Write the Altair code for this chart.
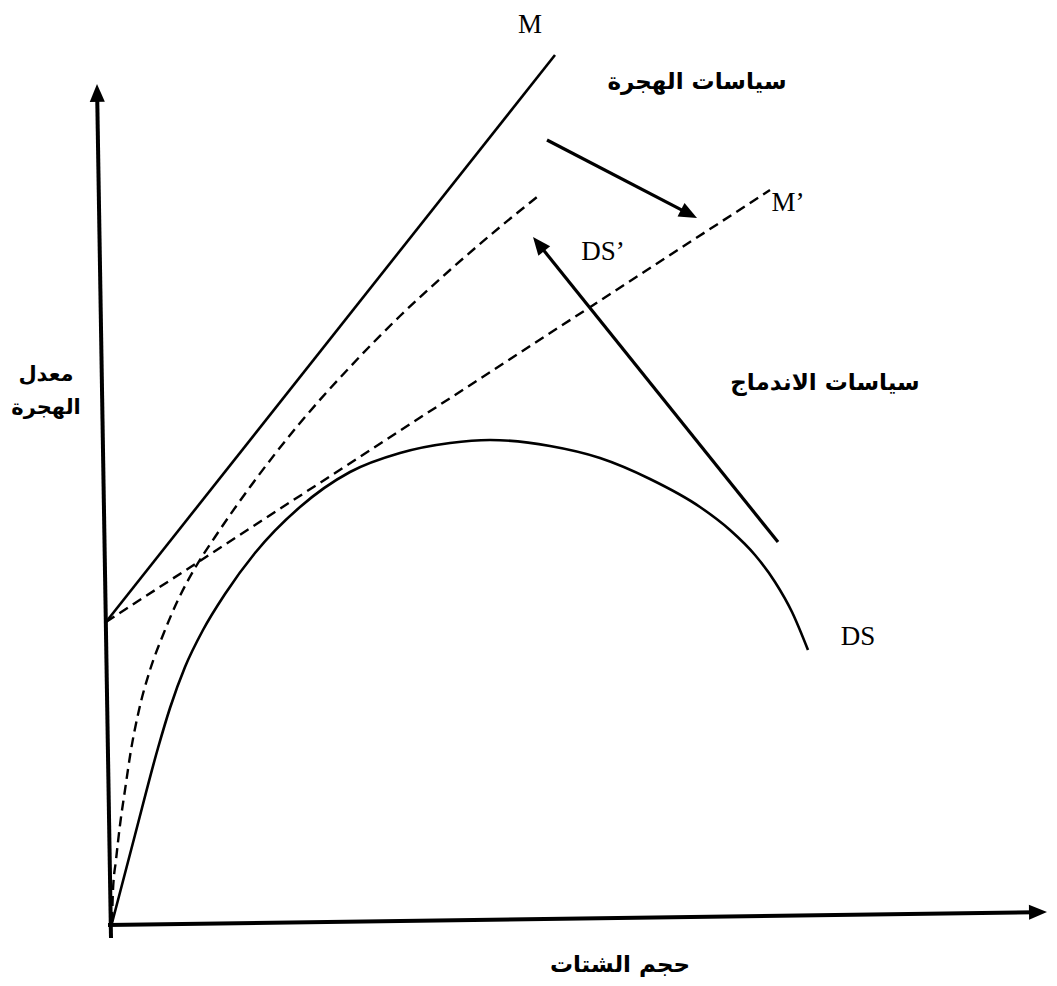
import altair as alt
import pandas as pd
import numpy as np

# ---- data (diagram units, origin at the axes' corner, y upwards) ----
ds_x = [2, 25, 48, 60, 75, 93, 115, 145, 190, 240, 290, 340, 380, 440, 490, 540, 590, 620, 645, 665, 682, 698]
ds_y = [2, 90, 177, 217, 258, 295, 331, 372, 418, 453, 472, 482, 485, 479, 467, 446, 418, 395, 370, 343, 313, 275]

dsp_x = [2, 3, 6, 10, 15, 21, 29, 40, 53, 68, 85, 105, 140, 190, 240, 290, 340, 390, 427]
dsp_y = [3, 35, 65, 100, 135, 175, 215, 255, 290, 325, 357, 388, 438, 502, 558, 609, 655, 698, 728]

m_x = [-4, 445]
m_y = [303, 870]
mp_x = [-4, 660]
mp_y = [303, 735]

# arrows: [tail, tip]
yaxis_x = [1, -13]
yaxis_y = [-13, 841]
xaxis_x = [-2, 937]
xaxis_y = [0, 13]
arrow1_x = [437, 587]
arrow1_y = [785, 707]
arrow2_x = [668, 423]
arrow2_y = [383, 688]

latin_text = ["M", "M’", "DS’", "DS"]
latin_x = [420, 678, 493, 748]
latin_y = [900, 722, 673, 288]

arabic_text = ["سياسات الهجرة", "سياسات الاندماج", "حجم الشتات"]
arabic_x = [587, 715, 510]
arabic_y = [843, 542, -40]

ylabel_text = ["معدل", "الهجرة"]
ylabel_x = [-64, -64]
ylabel_y = [550, 517]

X_DOMAIN = [-102, 939]
Y_DOMAIN = [-53, 917]

def enc(chart):
    return chart.encode(
        x=alt.X("x:Q", scale=alt.Scale(domain=X_DOMAIN, nice=False, zero=False), axis=None),
        y=alt.Y("y:Q", scale=alt.Scale(domain=Y_DOMAIN, nice=False, zero=False), axis=None),
    )

def line(xs, ys, width=2.6, dash=None, interp="linear"):
    df = pd.DataFrame({"x": xs, "y": ys, "o": range(len(xs))})
    kw = dict(color="black", strokeWidth=width, interpolate=interp, clip=False)
    if dash:
        kw["strokeDash"] = dash
    return enc(alt.Chart(df).mark_line(**kw)).encode(order="o:Q")

HEAD_LEN = 18
HEAD_PATH = "M0,0L0.42,1L-0.42,1Z"

def arrow(xs, ys, width):
    tail = np.array([xs[0], ys[0]], float)
    tip = np.array([xs[1], ys[1]], float)
    d = tip - tail
    u = d / np.linalg.norm(d)
    end = tip - u * HEAD_LEN * 0.7
    shaft = line([tail[0], end[0]], [tail[1], end[1]], width=width)
    ang = float(np.degrees(np.arctan2(d[0], d[1])) % 360)
    hd = pd.DataFrame({"x": [tip[0]], "y": [tip[1]], "a": [ang]})
    head = enc(alt.Chart(hd).mark_point(
        shape=HEAD_PATH, filled=True, color="black", opacity=1,
        size=(2 * HEAD_LEN) ** 2, strokeWidth=0, clip=False
    )).encode(angle=alt.Angle("a:Q", scale=None))
    return shaft + head

layers = [
    arrow(yaxis_x, yaxis_y, 4),
    arrow(xaxis_x, xaxis_y, 4),
    line(m_x, m_y, 2.6),
    line(mp_x, mp_y, 2.4, dash=[10, 6]),
    line(ds_x, ds_y, 2.6, interp="monotone"),
    line(dsp_x, dsp_y, 2.4, dash=[10, 6], interp="monotone"),
    arrow(arrow1_x, arrow1_y, 3.2),
    arrow(arrow2_x, arrow2_y, 3.2),
]

lat = pd.DataFrame({"x": latin_x, "y": latin_y, "t": latin_text})
layers.append(enc(alt.Chart(lat).mark_text(
    font="Liberation Serif", fontSize=27, color="black", align="center", baseline="middle"
)).encode(text="t:N"))

ara = pd.DataFrame({"x": arabic_x, "y": arabic_y, "t": arabic_text})
layers.append(enc(alt.Chart(ara).mark_text(
    font="DejaVu Sans", fontSize=23, fontWeight="bold", color="black", align="center", baseline="middle"
)).encode(text="t:N"))

yl = pd.DataFrame({"x": ylabel_x, "y": ylabel_y, "t": ylabel_text})
layers.append(enc(alt.Chart(yl).mark_text(
    font="DejaVu Sans", fontSize=21, fontWeight="bold", color="black", align="center", baseline="middle"
)).encode(text="t:N"))

chart = alt.layer(*layers).properties(
    width=1041, height=970,
    padding=0,
    autosize=alt.AutoSizeParams(type="none"),
    background="white",
).configure_view(stroke=None)

chart.save("out.html", embed_options={"renderer": "svg", "actions": False})
